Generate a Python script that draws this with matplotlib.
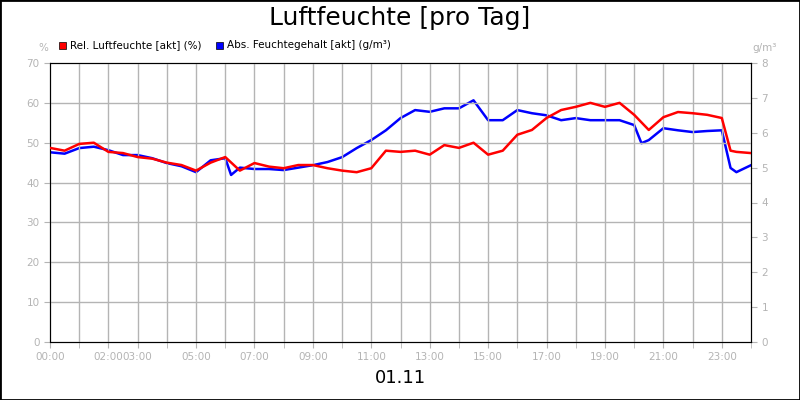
import matplotlib
matplotlib.use("Agg")
import matplotlib.pyplot as plt
from matplotlib.patches import Rectangle

# hours of day and readings
rel_hours = [0, 0.5, 1, 1.5, 2, 2.5, 3, 3.5, 4, 4.5, 5, 5.5, 6, 6.5, 7, 7.5, 8, 8.5, 9, 9.5,
             10, 10.5, 11, 11.5, 12, 12.5, 13, 13.5, 14, 14.5, 15, 15.5, 16, 16.5, 17, 17.5,
             18, 18.5, 19, 19.5, 20, 20.5, 21, 21.5, 22, 22.5, 23, 23.3, 23.5, 24]
rel_hum = [48.7, 48.0, 49.7, 50.0, 47.7, 47.4, 46.4, 46.0, 45.0, 44.4, 43.0, 45.0, 46.4, 43.0,
           44.9, 44.0, 43.6, 44.4, 44.4, 43.6, 43.0, 42.6, 43.6, 48.0, 47.7, 48.0, 47.0, 49.4,
           48.7, 50.0, 47.0, 48.0, 52.0, 53.2, 56.2, 58.2, 59.0, 60.0, 59.0, 60.0, 57.0, 53.2,
           56.4, 57.7, 57.4, 57.0, 56.2, 48.0, 47.7, 47.4]

abs_hours = [0, 0.5, 1, 1.5, 2, 2.5, 3, 3.5, 4, 4.5, 5, 5.5, 6, 6.2, 6.5, 7, 7.5, 8, 8.5, 9,
             9.5, 10, 10.5, 11, 11.5, 12, 12.5, 13, 13.5, 14, 14.5, 15, 15.5, 16, 16.5, 17,
             17.5, 18, 18.5, 19, 19.5, 20, 20.25, 20.5, 21, 21.5, 22, 22.5, 23, 23.3, 23.5, 24]
abs_hum = [5.44, 5.40, 5.56, 5.60, 5.50, 5.36, 5.36, 5.27, 5.13, 5.04, 4.87, 5.21, 5.27, 4.79,
           5.00, 4.96, 4.96, 4.93, 5.00, 5.07, 5.16, 5.30, 5.56, 5.79, 6.07, 6.42, 6.65, 6.60,
           6.70, 6.70, 6.93, 6.36, 6.36, 6.65, 6.56, 6.50, 6.36, 6.42, 6.36, 6.36, 6.36, 6.22,
           5.70, 5.79, 6.13, 6.07, 6.02, 6.05, 6.07, 4.99, 4.87, 5.07]

tick_hours = [0, 2, 3, 5, 7, 9, 11, 13, 15, 17, 19, 21, 23]
tick_labels = ["00:00", "02:00", "03:00", "05:00", "07:00", "09:00", "11:00",
               "13:00", "15:00", "17:00", "19:00", "21:00", "23:00"]

GRAY = "#b4b4b4"

fig = plt.figure(figsize=(8, 4), dpi=100)
fig.patches.append(Rectangle((0, 0), 1, 1, transform=fig.transFigure, fill=False,
                             edgecolor="black", lw=2))
ax = fig.add_axes([50 / 800, 58 / 400, 701 / 800, 279 / 400])
ax2 = ax.twinx()

for h in range(1, 24):
    ax.axvline(h, color=GRAY, lw=1, zorder=0)
for v in range(10, 70, 10):
    ax.axhline(v, color=GRAY, lw=1, zorder=0)

ax.plot(rel_hours, rel_hum, color="#ff0000", lw=1.8, zorder=3)
ax2.plot(abs_hours, abs_hum, color="#0000ff", lw=1.8, zorder=2)
ax.set_zorder(ax2.get_zorder() + 1)
ax.patch.set_visible(False)

ax.set_xlim(0, 24)
ax.set_ylim(0, 70)
ax2.set_ylim(0, 8)
ax.set_xticks(tick_hours)
ax.set_xticklabels(tick_labels)
ax.set_xticks(range(0, 25), minor=True)
ax.set_yticks(range(0, 71, 10))
ax2.set_yticks(range(0, 9))
for a in (ax, ax2):
    a.tick_params(which="both", colors=GRAY, labelcolor=GRAY, labelsize=7.5, length=4)
    for s in a.spines.values():
        s.set_color("black")

fig.text(0.5, 0.955, "Luftfeuchte [pro Tag]", ha="center", va="center", fontsize=18)
fig.text(0.5, 0.055, "01.11", ha="center", va="center", fontsize=13)
fig.text(38 / 800, 1 - 48 / 400, "%", ha="left", va="center", fontsize=7.5, color=GRAY)
fig.text(752 / 800, 1 - 48 / 400, "g/m³", ha="left", va="center", fontsize=7.5, color=GRAY)

fig.patches.append(Rectangle((59 / 800, 1 - 49 / 400), 7 / 800, 7 / 400,
                             transform=fig.transFigure, facecolor="#ff0000", edgecolor="black", lw=0.5))
fig.text(70 / 800, 1 - 45 / 400, "Rel. Luftfeuchte [akt] (%)", va="center", fontsize=7.5)
fig.patches.append(Rectangle((216 / 800, 1 - 49 / 400), 7 / 800, 7 / 400,
                             transform=fig.transFigure, facecolor="#0000ff", edgecolor="black", lw=0.5))
fig.text(227 / 800, 1 - 45 / 400, "Abs. Feuchtegehalt [akt] (g/m³)", va="center", fontsize=7.5)

fig.savefig("out.png", dpi=100)
